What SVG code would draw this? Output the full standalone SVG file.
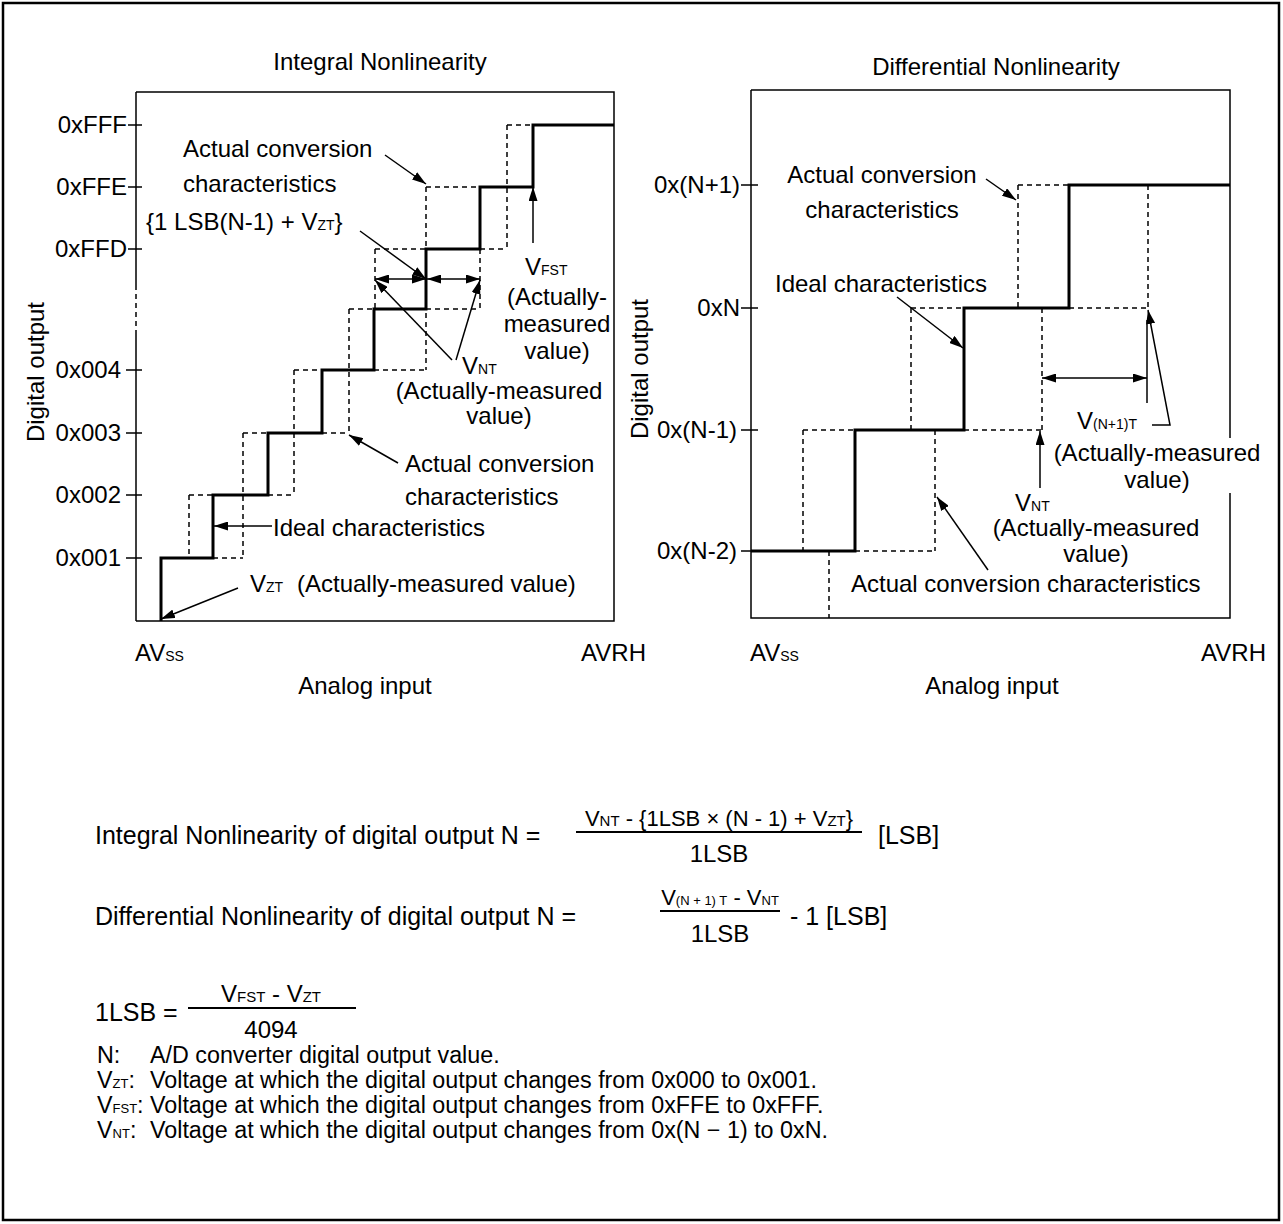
<svg xmlns="http://www.w3.org/2000/svg" width="1283" height="1224" viewBox="0 0 1283 1224">
<style>
text{font-family:"Liberation Sans",Arial,sans-serif;font-size:24px;fill:#000}
.s{font-size:14px}
.m{text-anchor:middle}
.e{text-anchor:end}
.f{font-size:25px}
.num{font-size:22px}
.fs{font-size:15px}
.lg{font-size:23.3px}
.ls{font-size:13px}
.box{fill:none;stroke:#000;stroke-width:1.5}
.ideal{fill:none;stroke:#000;stroke-width:3}
.dash{fill:none;stroke:#000;stroke-width:1.5;stroke-dasharray:5 4}
.lead{fill:none;stroke:#000;stroke-width:1.5}
.arr{fill:none;stroke:#000;stroke-width:1.5;marker-end:url(#ah)}
.darr{fill:none;stroke:#000;stroke-width:1.5;marker-start:url(#ah);marker-end:url(#ah)}
.fl{stroke:#000;stroke-width:2}
</style>
<defs>
<marker id="ah" viewBox="0 0 14 9" refX="14" refY="4.5" markerWidth="14" markerHeight="9" markerUnits="userSpaceOnUse" orient="auto-start-reverse"><path d="M0,0 L14,4.5 L0,9 z" fill="#000"/></marker>
</defs>
<rect x="3" y="3" width="1276" height="1217" fill="#fff" stroke="#000" stroke-width="2.5"/>

<g id="chart-inl">
<text class="m" x="380" y="70">Integral Nonlinearity</text>
<path class="box" d="M136,92 H614 V621 H136 M136,92 V285 M136,333 V621"/>
<path class="dash" d="M136,285 V333"/>
<path class="box" d="M128,125 H142 M128,187 H142 M128,249 H142 M126,370 H142 M126,433 H142 M126,495 H142 M126,558 H142"/>
<text class="e" x="127" y="133">0xFFF</text>
<text class="e" x="127" y="195">0xFFE</text>
<text class="e" x="127" y="257">0xFFD</text>
<text class="e" x="121" y="378">0x004</text>
<text class="e" x="121" y="441">0x003</text>
<text class="e" x="121" y="503">0x002</text>
<text class="e" x="121" y="566">0x001</text>
<text class="m" transform="translate(44,372) rotate(-90)">Digital output</text>
<path class="ideal" d="M161,621 V558 H213 V495 H268 V433 H322 V370 H374 V309 H426 V249 H480 V187 H533 V125 H614"/>
<path class="dash" d="M189,495 V558 M189,495 H213 M213,558 H243 M243,433 V558 M243,433 H268 M268,495 H294 M294,370 V495 M294,370 H322 M322,433 H349 M349,309 V433 M349,309 H374 M374,370 H426 M375,249 V309 M375,249 H426 M426,187 V370 M426,187 H480 M426,309 H480 M480,249 V309 M480,249 H507 M507,125 V249 M507,125 H533"/>
<text x="183" y="157">Actual conversion</text>
<text x="183" y="192">characteristics</text>
<text x="146" y="230">{1 LSB(N-1) + V<tspan class="s">ZT</tspan>}</text>
<text x="525" y="275">V<tspan class="s">FST</tspan></text>
<text class="m" x="557" y="305">(Actually-</text>
<text class="m" x="557" y="332">measured</text>
<text class="m" x="557" y="359">value)</text>
<text x="462" y="374">V<tspan class="s">NT</tspan></text>
<text class="m" x="499" y="399">(Actually-measured</text>
<text class="m" x="499" y="424">value)</text>
<text x="405" y="472">Actual conversion</text>
<text x="405" y="505">characteristics</text>
<text x="273" y="536">Ideal characteristics</text>
<text x="250" y="592">V<tspan class="s">ZT</tspan></text>
<text x="297" y="592">(Actually-measured value)</text>
<text x="135" y="661">AV<tspan class="s">SS</tspan></text>
<text class="e" x="646" y="661">AVRH</text>
<text class="m" x="365" y="694">Analog input</text>
</g>

<g id="chart-dnl">
<text class="m" x="996" y="75">Differential Nonlinearity</text>
<path class="box" d="M751,90 H1230 V438 M1230,493 V618 H751 V90"/>
<path class="box" d="M741,185 H758 M741,308 H758 M741,430 H758 M741,551 H758"/>
<text class="e" x="740" y="193">0x(N+1)</text>
<text class="e" x="740" y="316">0xN</text>
<text class="e" x="737" y="438">0x(N-1)</text>
<text class="e" x="737" y="559">0x(N-2)</text>
<text class="m" transform="translate(648,369) rotate(-90)">Digital output</text>
<path class="ideal" d="M751,551 H855 V430 H964 V308 H1069 V185 H1230"/>
<path class="dash" d="M1018,185 H1069 M1018,185 V308 M1148,185 V308 M911,308 H964 M911,308 V430 M1042,308 V430 M1069,308 H1148 M964,430 H1042 M803,430 V551 M803,430 H855 M855,551 H935 M935,430 V551 M829,551 V618"/>
<text class="m" x="882" y="183">Actual conversion</text>
<text class="m" x="882" y="218">characteristics</text>
<text x="775" y="292">Ideal characteristics</text>
<text x="1077" y="429">V<tspan class="s">(N+1)T</tspan></text>
<text class="m" x="1157" y="461">(Actually-measured</text>
<text class="m" x="1157" y="488">value)</text>
<text x="1015" y="511">V<tspan class="s">NT</tspan></text>
<text class="m" x="1096" y="536">(Actually-measured</text>
<text class="m" x="1096" y="562">value)</text>
<text x="851" y="592">Actual conversion characteristics</text>
<text x="750" y="661">AV<tspan class="s">SS</tspan></text>
<text class="e" x="1266" y="661">AVRH</text>
<text class="m" x="992" y="694">Analog input</text>
</g>

<g id="connectors">
<line class="arr" x1="385" y1="155" x2="426" y2="184"/>
<line class="arr" x1="360" y1="231" x2="426" y2="279"/>
<line class="darr" x1="375" y1="279" x2="426" y2="279"/>
<line class="darr" x1="427" y1="279" x2="480" y2="279"/>
<line class="arr" x1="533" y1="243" x2="533" y2="187"/>
<line class="arr" x1="452" y1="360" x2="375" y2="280"/>
<line class="arr" x1="456" y1="360" x2="480" y2="280"/>
<line class="arr" x1="398" y1="463" x2="349" y2="435"/>
<line class="arr" x1="272" y1="526" x2="214" y2="526"/>
<line class="arr" x1="238" y1="588" x2="161" y2="619"/>
<line class="arr" x1="986" y1="179" x2="1016" y2="200"/>
<line class="arr" x1="897" y1="297" x2="963" y2="348"/>
<line class="darr" x1="1042" y1="378" x2="1147" y2="378"/>
<line class="lead" x1="1147" y1="320" x2="1147" y2="403"/>
<polyline class="arr" points="1152,425 1170,425 1148,310"/>
<line class="arr" x1="1040" y1="488" x2="1040" y2="431"/>
<line class="arr" x1="988" y1="570" x2="937" y2="497"/>
</g>

<g id="formulas">
<text class="f" x="95" y="844">Integral Nonlinearity of digital output N =</text>
<text class="m num" x="719" y="826">V<tspan class="fs">NT</tspan> - {1LSB × (N - 1) + V<tspan class="fs">ZT</tspan>}</text>
<line class="fl" x1="576" y1="832" x2="862" y2="832"/>
<text class="m" x="719" y="862">1LSB</text>
<text class="f" x="878" y="844">[LSB]</text>
<text class="f" x="95" y="925">Differential Nonlinearity of digital output N =</text>
<text class="m num" x="720" y="905">V<tspan class="ls">(N + 1) T</tspan> - V<tspan class="ls">NT</tspan></text>
<line class="fl" x1="660" y1="911" x2="780" y2="911"/>
<text class="m" x="720" y="942">1LSB</text>
<text class="f" x="790" y="925">- 1 [LSB]</text>
<text class="f" x="95" y="1021">1LSB =</text>
<text class="m" x="271" y="1002">V<tspan class="fs">FST</tspan> - V<tspan class="fs">ZT</tspan></text>
<line class="fl" x1="188" y1="1008" x2="356" y2="1008"/>
<text class="m" x="271" y="1038">4094</text>
</g>

<g id="legend">
<text class="lg" x="97" y="1063">N:</text>
<text class="lg" x="150" y="1063">A/D converter digital output value.</text>
<text class="lg" x="97" y="1088">V<tspan class="ls">ZT</tspan>:</text>
<text class="lg" x="150" y="1088">Voltage at which the digital output changes from 0x000 to 0x001.</text>
<text class="lg" x="97" y="1113">V<tspan class="ls">FST</tspan>:</text>
<text class="lg" x="150" y="1113">Voltage at which the digital output changes from 0xFFE to 0xFFF.</text>
<text class="lg" x="97" y="1138">V<tspan class="ls">NT</tspan>:</text>
<text class="lg" x="150" y="1138">Voltage at which the digital output changes from 0x(N − 1) to 0xN.</text>
</g>
</svg>
